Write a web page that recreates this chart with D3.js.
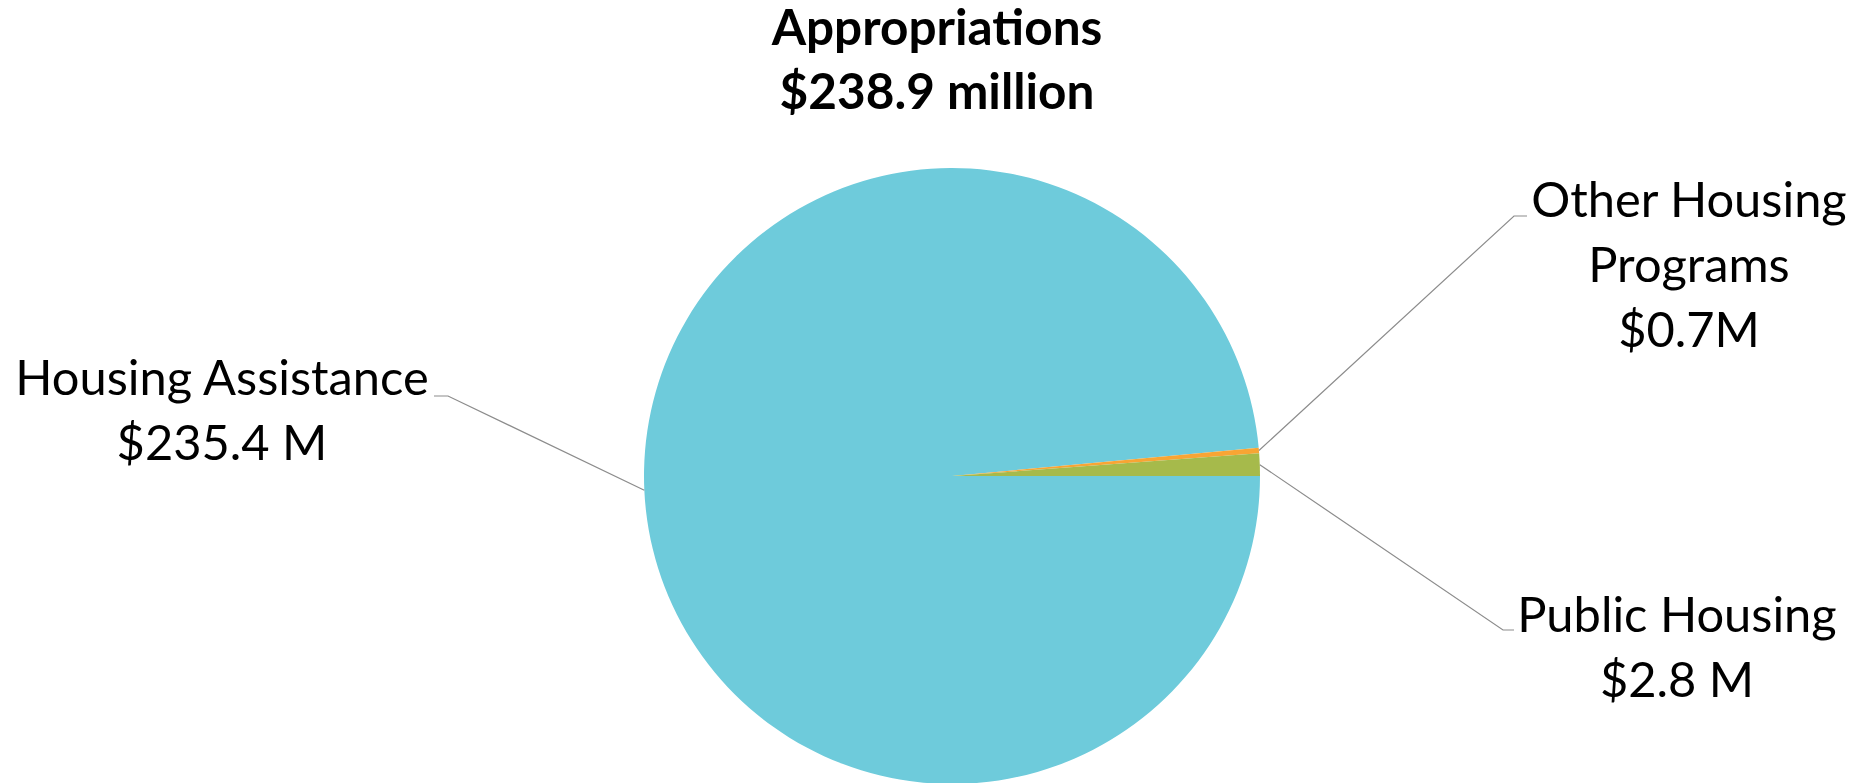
<!DOCTYPE html>
<html>
<head>
<meta charset="utf-8">
<script src="https://cdn.jsdelivr.net/npm/d3@7"></script>
<style>
  body { margin: 0; background: #fff; }
  svg { display: block; font-family: Lato, "Open Sans", sans-serif; }
</style>
</head>
<body>
<div id="chart"></div>
<script>
// slice data, in drawing order (clockwise from 3 o'clock)
const categories = ['Housing Assistance', 'Other Housing Programs', 'Public Housing'];
const values = [235.4, 0.7, 2.8];
const labelLines = [
	['Housing Assistance', '$235.4 M'],
	['Other Housing', 'Programs', '$0.7M'],
	['Public Housing', '$2.8 M']
];
const titleLines = ['Appropriations', '$238.9 million'];

const colors = ['#6ecbdb', '#f8a534', '#a6ba4b'];

// label placement: elbow of the leader line, end of line, first text baseline
const labelLayout = [
	{elbow: [448, 396], end: [434, 396], text: [222, 395]},
	{elbow: [1514, 216], end: [1527, 216], text: [1689, 217]},
	{elbow: [1503, 630], end: [1514, 630], text: [1677, 632]}
];

const width = 1858, height = 783;
const cx = 952, cy = 476, radius = 308;
const lineGap = 65;

const svg = d3.select('#chart').append('svg')
	.attr('width', width)
	.attr('height', height);

// title
svg.append('g').selectAll('text')
	.data(titleLines)
	.join('text')
	.attr('x', 937)
	.attr('y', (d, i) => 45 + i * 64)
	.attr('text-anchor', 'middle')
	.attr('font-weight', 'bold')
	.attr('font-size', 49.5)
	.text(d => d);

const pie = d3.pie()
	.sort(null)
	.value(d => d)
	.startAngle(Math.PI / 2)
	.endAngle(Math.PI / 2 + 2 * Math.PI);

const arcs = pie(values);
const arc = d3.arc().innerRadius(0).outerRadius(radius);

const g = svg.append('g').attr('transform', `translate(${cx},${cy})`);

g.selectAll('path')
	.data(arcs)
	.join('path')
	.attr('d', arc)
	.attr('fill', (d, i) => colors[i]);

// leader lines from the edge of each slice
arcs.forEach(function(a, i){
	const mid = (a.startAngle + a.endAngle) / 2;
	const px = cx + Math.sin(mid) * radius,
		py = cy - Math.cos(mid) * radius;
	const lay = labelLayout[i];
	svg.append('polyline')
		.attr('points', [[px, py], lay.elbow, lay.end].map(p => p.join(',')).join(' '))
		.attr('fill', 'none')
		.attr('stroke', '#8c8c8c')
		.attr('stroke-width', 1.2);

	svg.append('g').selectAll('text')
		.data(labelLines[i])
		.join('text')
		.attr('x', lay.text[0])
		.attr('y', (d, j) => lay.text[1] + j * lineGap)
		.attr('text-anchor', 'middle')
		.attr('font-size', 48.8)
		.attr('fill', '#000')
		.text(d => d);
});
</script>
</body>
</html>
